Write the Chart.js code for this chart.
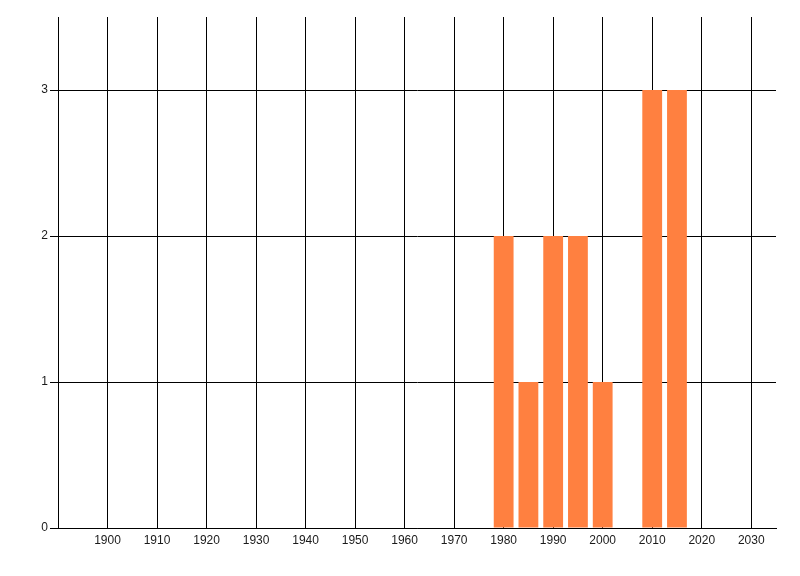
<!DOCTYPE html>
<html><head><meta charset="utf-8">
<script src="https://cdn.jsdelivr.net/npm/chart.js@4.4.1/dist/chart.umd.min.js"></script>
<style>html,body{margin:0;padding:0;background:#fff}#wrap{width:800px;height:576px;position:relative}</style>
</head><body><div id="wrap"><canvas id="c"></canvas></div>
<script>
const years = [1980, 1985, 1990, 1995, 2000, 2005, 2010, 2015];
const counts = [2, 1, 2, 2, 1, 0, 3, 3];
const xTickValues = [1900, 1910, 1920, 1930, 1940, 1950, 1960, 1970, 1980, 1990, 2000, 2010, 2020, 2030];
const yTickValues = [0, 1, 2, 3];

const font = { family: "'Liberation Sans Narrow', 'Liberation Sans', Arial, sans-serif", size: 12 };

new Chart(document.getElementById('c'), {
  type: 'bar',
  data: {
    datasets: [{
      data: years.map((y, i) => ({ x: y, y: counts[i] })),
      backgroundColor: 'rgb(255,128,64)',
      borderWidth: 0,
      categoryPercentage: 1.0,
      barPercentage: 0.8
    }]
  },
  options: {
    responsive: true,
    maintainAspectRatio: false,
    animation: false,
    devicePixelRatio: 1,
    layout: { padding: { top: 17, right: 24, left: 0, bottom: 0 } },
    plugins: { legend: { display: false }, tooltip: { enabled: false } },
    scales: {
      x: {
        type: 'linear',
        min: 1890, max: 2035,
        offset: false,
        grid: { color: '#000', lineWidth: 1, drawTicks: false, offset: false },
        border: { color: '#000', width: 1 },
        ticks: { color: '#1a1a1a', font: font, padding: 5, maxRotation: 0, autoSkip: false,
                 callback: v => String(v) },
        afterBuildTicks: s => { s.ticks = xTickValues.map(v => ({ value: v })); },
        afterFit: s => { s.height = 48; }
      },
      y: {
        type: 'linear',
        min: 0, max: 3.5,
        grid: { color: '#000', lineWidth: 1, drawTicks: true, tickLength: 8, tickColor: '#000' },
        border: { color: '#000', width: 1 },
        ticks: { color: '#1a1a1a', font: font, padding: 2 },
        afterBuildTicks: s => { s.ticks = yTickValues.map(v => ({ value: v })); },
        afterFit: s => { s.width = 58; }
      }
    }
  }
});
</script>
</body></html>
